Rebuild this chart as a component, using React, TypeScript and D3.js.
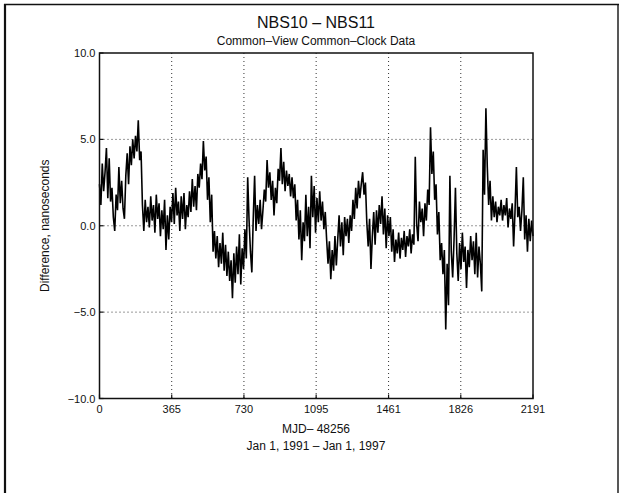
import React from "react";
import * as d3 from "d3";

const title = "NBS10 \u2013 NBS11";
const subtitle = "Common\u2013View Common\u2013Clock Data";
const xLabel1 = "MJD\u2013 48256";
const xLabel2 = "Jan 1, 1991 \u2013 Jan 1, 1997";
const yLabel = "Difference, nanoseconds";

const xTicks = [0, 365, 730, 1095, 1461, 1826, 2191];
const yTicks = [-10, -5, 0, 5, 10];
const DAY_STEP = 7;

// difference in ns, sampled every 7 days from MJD 48256
const diffValues = [
  2.4, 1.2, 3.6, 2.0, 3.1, 4.5, 1.6, 3.9, 1.4, 2.2,
  0.5, -0.3, 1.8, 0.9, 3.4, 1.3, 2.6, 1.0, 0.4, 2.9,
  4.2, 2.4, 4.6, 3.5, 5.0, 3.9, 5.2, 4.3, 6.1, 3.8,
  4.3, 1.2, -0.3, 1.5, 0.2, 1.1, -0.1, 1.7, 0.3, 1.2,
  -0.4, 1.8, 0.4, 1.3, -0.6, 0.9, -0.2, 1.5, -1.4, 0.6,
  -0.8, 1.1, 0.2, 1.9, 0.1, 2.2, 0.6, 1.4, -0.3, 1.7,
  0.4, 1.9, -0.2, 1.2, 0.5, 2.0, 0.8, 2.7, 1.1, 2.3,
  0.9, 3.0, 2.2, 3.6, 2.7, 4.9, 3.2, 4.0, 1.5, 2.8,
  0.2, 1.8, -1.5, -0.3, -1.9, -0.6, -2.4, -1.0, -2.2, -0.4,
  -2.6, -1.1, -2.9, -1.5, -3.2, -2.0, -4.2, -1.6, -3.3, -1.2,
  -2.8, -0.5, -3.4, -1.3, -2.5, -0.2, -1.9, 2.8, 0.3, -1.5,
  -2.7, 0.4, 2.9, -0.3, 1.2, 0.1, 1.5, -0.2, 0.9, 2.1,
  1.4, 3.8, 2.2, 3.1, 1.5, 2.6, 0.6, 2.2, 1.3, 3.3,
  2.6, 4.5, 2.4, 3.7, 2.0, 3.2, 2.3, 3.0, 1.7, 2.8,
  1.6, 2.4, 0.3, 1.5, -0.8, 0.9, -2.0, 0.2, -0.9, 1.8,
  -0.6, 1.1, -1.3, 2.9, 0.5, 2.3, -0.4, 1.6, 0.2, 2.0,
  0.3, 1.4, -0.2, 0.8, -0.8, -2.2, -0.9, -3.1, -1.4, -2.6,
  -0.6, -2.3, -0.8, 0.6, -1.2, 0.2, -1.7, 0.5, -0.6, 0.4,
  -1.0, 0.6, -0.3, 1.5, 0.4, 2.2, 1.0, 2.6, 1.6, 2.4,
  3.1, 1.8, 2.5, 0.2, -1.2, 0.4, -2.5, -0.6, 0.8, -1.1,
  0.9, -0.4, 1.2, 0.1, 1.7, -0.5, 1.0, -1.3, 0.6, -0.6,
  0.5, -1.5, -0.2, -2.1, -0.8, -1.6, -0.4, -1.9, -0.7, -1.4,
  -0.3, -1.8, -0.6, -1.2, -0.2, -1.6, -0.5, -1.1, 4.0, 0.1,
  -0.9, 1.4, 0.2, 1.0, -0.6, 1.3, 0.3, 2.1, 1.2, 5.7,
  3.0, 4.3, 1.5, 2.4, -0.5, 0.8, -2.0, -1.0, -2.8, -1.4,
  -6.0, -2.2, -4.6, 2.9, -1.5, -3.0, -0.8, 2.2, -1.6, -3.2,
  -1.0, -2.5, -0.4, -2.1, -1.2, -3.6, -1.4, -2.4, -0.6, -2.0,
  -0.9, -2.8, -0.4, -3.0, -1.2, -2.2, -3.8, 4.4, 1.8, 6.8,
  3.4, 1.2, 2.6, 0.3, 1.7, 0.5, 1.4, 0.2, 1.1, 0.6,
  1.5, 0.3, 1.2, 0.6, 1.6, -0.1, 1.0, 0.4, 1.3, -1.2,
  0.8, 3.4, 0.5, 1.1, -0.3, 0.9, 2.8, -0.8, 0.6, -1.5,
  0.4, -0.9, 0.3, -0.6,
];

const W = 625;
const H = 493;
const plot = { left: 99.5, right: 533, top: 53, bottom: 398.5 };
const FONT = "'Liberation Sans', Arial, Helvetica, sans-serif";

export default function App() {
  const x = d3.scaleLinear().domain([0, 2191]).range([plot.left, plot.right]);
  const y = d3.scaleLinear().domain([-10, 10]).range([plot.bottom, plot.top]);

  const pts: [number, number][] = diffValues.map((v, i) => [Math.min(i * DAY_STEP, 2191), v]);
  const line = d3
    .line<[number, number]>()
    .x((d) => x(d[0]))
    .y((d) => y(d[1]));

  return (
    <svg
      width={W}
      height={H}
      style={{ position: "absolute", left: 0, top: 0, background: "#fff" }}
      fontFamily={FONT}
    >
      <rect x={0} y={0} width={W} height={H} fill="#fff" />
      {/* page frame */}
      <line x1={5} y1={4} x2={5} y2={H} stroke="#111" strokeWidth={2.2} />
      <line x1={4} y1={4.5} x2={619} y2={4.5} stroke="#111" strokeWidth={1.6} />
      <line x1={618} y1={4} x2={618} y2={H} stroke="#111" strokeWidth={1.4} />

      {/* titles */}
      <text x={316} y={28} textAnchor="middle" fontSize={16} fill="#111">
        {title}
      </text>
      <text x={316} y={45} textAnchor="middle" fontSize={12} fill="#111">
        {subtitle}
      </text>

      {/* grid */}
      {xTicks.slice(1, -1).map((t) => (
        <line
          key={"gx" + t}
          x1={x(t)}
          x2={x(t)}
          y1={plot.top}
          y2={plot.bottom}
          stroke="#333"
          strokeWidth={1}
          strokeDasharray="1,3"
        />
      ))}
      {yTicks.slice(1, -1).map((t) => (
        <line
          key={"gy" + t}
          x1={plot.left}
          x2={plot.right}
          y1={y(t)}
          y2={y(t)}
          stroke="#333"
          strokeWidth={1}
          strokeDasharray="1,3"
        />
      ))}

      {/* data */}
      <path d={line(pts) || ""} fill="none" stroke="#000" strokeWidth={1.6} strokeLinejoin="miter" />

      {/* plot frame */}
      <rect
        x={plot.left}
        y={plot.top}
        width={plot.right - plot.left}
        height={plot.bottom - plot.top}
        fill="none"
        stroke="#111"
        strokeWidth={1.5}
      />

      {/* x ticks */}
      {xTicks.map((t) => (
        <g key={"xt" + t}>
          <line x1={x(t)} x2={x(t)} y1={plot.bottom} y2={plot.bottom - 4} stroke="#111" strokeWidth={1.2} />
          <text x={x(t)} y={plot.bottom + 14} textAnchor="middle" fontSize={11} fill="#111">
            {t}
          </text>
        </g>
      ))}

      {/* y ticks */}
      {yTicks.map((t) => (
        <g key={"yt" + t}>
          <line x1={plot.left} x2={plot.left + 4} y1={y(t)} y2={y(t)} stroke="#111" strokeWidth={1.2} />
          <text x={plot.left - 4} y={y(t) + 4} textAnchor="end" fontSize={11} fill="#111">
            {t < 0 ? "\u2212" + Math.abs(t).toFixed(1) : t.toFixed(1)}
          </text>
        </g>
      ))}

      {/* axis labels */}
      <text x={316} y={433} textAnchor="middle" fontSize={12} fill="#111">
        {xLabel1}
      </text>
      <text x={316} y={450} textAnchor="middle" fontSize={12} fill="#111">
        {xLabel2}
      </text>
      <text
        transform={`translate(49, ${(plot.top + plot.bottom) / 2}) rotate(-90)`}
        textAnchor="middle"
        fontSize={12}
        fill="#111"
      >
        {yLabel}
      </text>
    </svg>
  );
}
